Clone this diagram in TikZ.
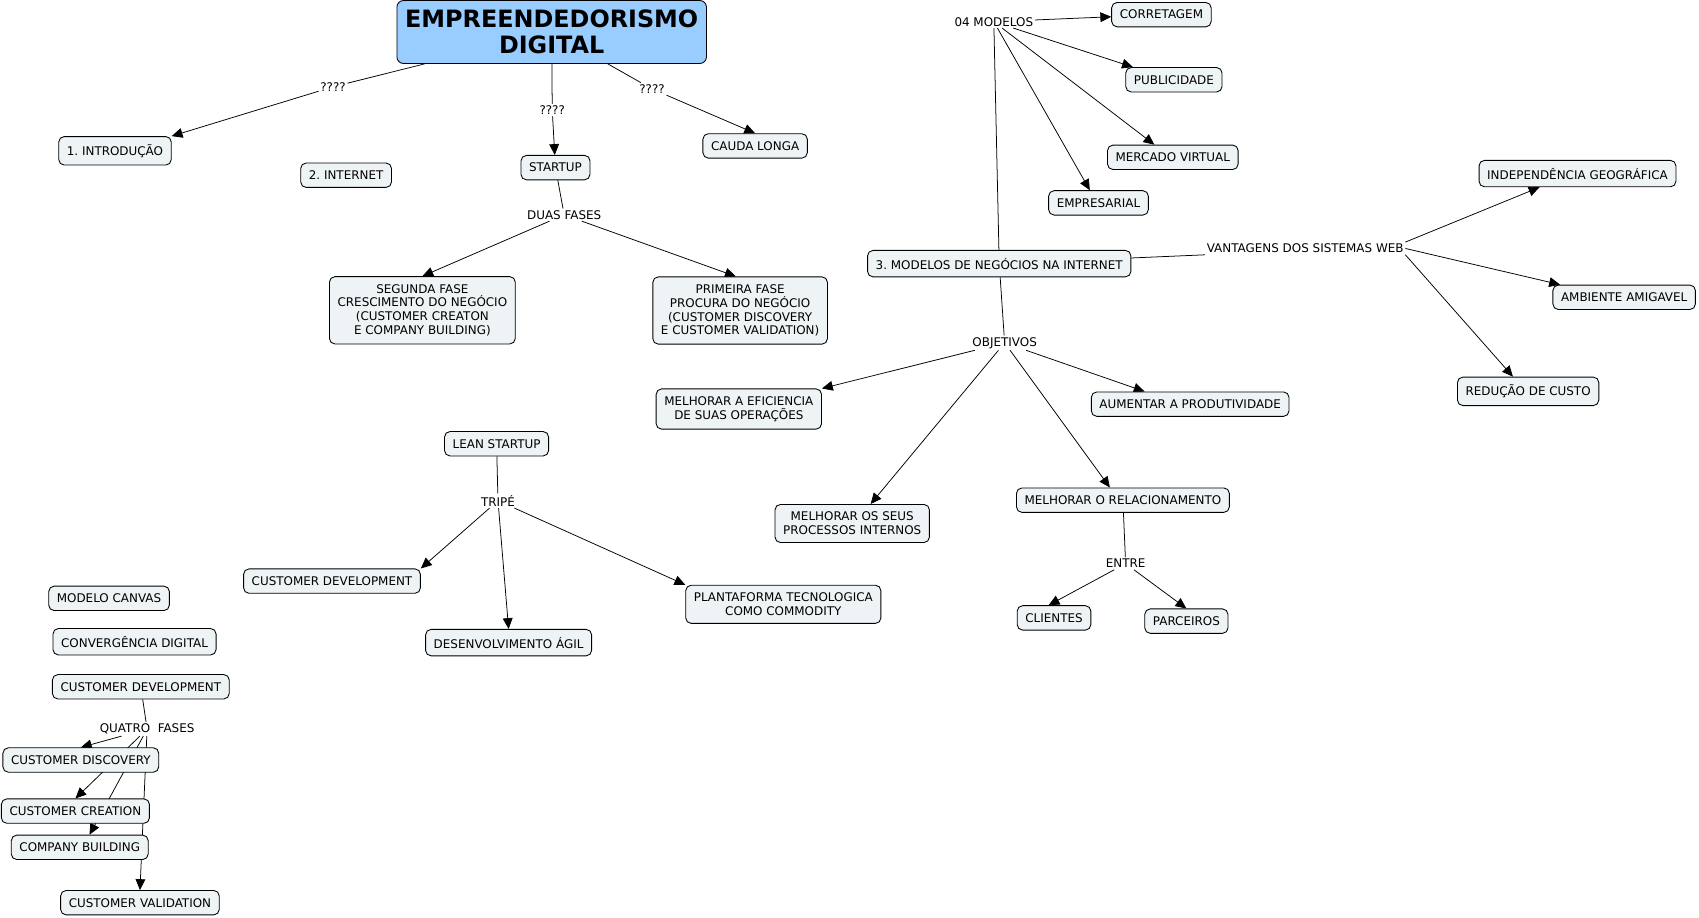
\documentclass[tikz,border=0pt]{standalone}
\usepackage{fontspec}
\setmainfont{DejaVu Sans}
\usetikzlibrary{arrows.meta,backgrounds}
\definecolor{rootfill}{RGB}{153,204,255}
\definecolor{cfill}{RGB}{238,243,245}
\frenchspacing
\begin{document}
\begin{tikzpicture}[x=1pt,y=-1pt,
  concept/.style={draw=black, line width=0.8pt, rounded corners=5pt, fill=cfill,
    font=\fontsize{11}{12.8}\selectfont, inner xsep=7.5pt, inner ysep=7pt,
    minimum height=22.5pt, align=center},
  link/.style={font=\fontsize{11}{12.8}\selectfont, inner sep=1.5pt},
  conn/.style={line width=0.7pt},
  arr/.style={conn, -{Triangle[length=10pt,width=9pt]}}]
\path[use as bounding box] (0,0) rectangle (1566,846);

% root
\node[concept, fill=rootfill, font=\fontsize{22}{23.5}\selectfont\bfseries,
  rounded corners=6pt, minimum width=285pt, minimum height=58pt] (root) at (508.5,29.5) {EMPREENDEDORISMO\\DIGITAL};

% top-left
\node[concept] (intro) at (106,139) {1. INTRODUÇÃO};
\node[concept] (internet) at (319,161.5) {2. INTERNET};
\node[concept] (startup) at (512,154.5) {STARTUP};
\node[concept] (cauda) at (696,134.5) {CAUDA LONGA};
\node[link] (q1) at (307,80) {????};
\node[link] (q2) at (509,101.5) {????};
\node[link] (q3) at (601,82) {????};
\node[link] (duas) at (520,198) {DUAS FASES};
\node[concept] (segunda) at (389.3,286) {SEGUNDA FASE\\CRESCIMENTO DO NEGÓCIO\\(CUSTOMER CREATON\\E COMPANY BUILDING)};
\node[concept] (primeira) at (682.2,286.2) {PRIMEIRA FASE\\PROCURA DO NEGÓCIO\\(CUSTOMER DISCOVERY\\E CUSTOMER VALIDATION)};

% modelos
\node[link] (mod04) at (916,20) {04 MODELOS};
\node[concept] (corretagem) at (1070.5,13.5) {CORRETAGEM};
\node[concept] (publicidade) at (1082,73.5) {PUBLICIDADE};
\node[concept] (mercado) at (1081,145) {MERCADO VIRTUAL};
\node[concept] (empresarial) at (1012.5,187) {EMPRESARIAL};
\node[concept] (modelos3) at (921,243) {3. MODELOS DE NEGÓCIOS NA INTERNET};
\node[link] (vantagens) at (1203,229) {VANTAGENS DOS SISTEMAS WEB};
\node[concept] (indep) at (1454,160) {INDEPENDÊNCIA GEOGRÁFICA};
\node[concept] (ambiente) at (1497,274) {AMBIENTE AMIGAVEL};
\node[concept] (reducao) at (1408.5,360.7) {REDUÇÃO DE CUSTO};

% objetivos
\node[link] (objetivos) at (926,316) {OBJETIVOS};
\node[concept] (eficiencia) at (681,377) {MELHORAR A EFICIENCIA\\DE SUAS OPERAÇÕES};
\node[concept] (produtividade) at (1097,372.5) {AUMENTAR A PRODUTIVIDADE};
\node[concept] (processos) at (785.5,482.5) {MELHORAR OS SEUS\\PROCESSOS INTERNOS};
\node[concept] (relacionamento) at (1035,461) {MELHORAR O RELACIONAMENTO};
\node[link] (entre) at (1037.5,519.5) {ENTRE};
\node[concept] (clientes) at (971.5,569.5) {CLIENTES};
\node[concept] (parceiros) at (1093.5,572.5) {PARCEIROS};

% lean startup
\node[concept] (lean) at (457.7,409) {LEAN STARTUP};
\node[link] (tripe) at (459,461.5) {TRIPÉ};
\node[concept] (custdev2) at (306,535.6) {CUSTOMER DEVELOPMENT};
\node[concept] (desenv) at (468.8,592.3) {DESENVOLVIMENTO ÁGIL};
\node[concept] (plataforma) at (722,557) {PLANTAFORMA TECNOLOGICA\\COMO COMMODITY};

% left column
\node[concept] (canvas) at (100.5,551.5) {MODELO CANVAS};
\node[concept] (convergencia) at (124,591.5) {CONVERGÊNCIA DIGITAL};
\node[concept] (custdev1) at (129.8,633) {CUSTOMER DEVELOPMENT};
\node[link] (quatro) at (135.6,672) {QUATRO\ \ FASES};
\node[concept] (discovery) at (74.5,700.5) {CUSTOMER DISCOVERY};
\node[concept] (creation) at (69.5,747.6) {CUSTOMER CREATION};
\node[concept] (building) at (73.5,781) {COMPANY BUILDING};
\node[concept] (validation) at (129,832) {CUSTOMER VALIDATION};

\begin{scope}[on background layer]
\draw[conn] (root) -- (q1);
\draw[arr] (q1) -- (intro.north east);
\draw[conn] (root) -- (q2);
\draw[arr] (q2) -- (startup);
\draw[conn] (root) -- (q3);
\draw[arr] (q3) -- (cauda.north);
\draw[conn] (startup) -- (duas);
\draw[arr] (duas) -- (segunda.north);
\draw[arr] (duas) -- ([xshift=-4pt]primeira.north);

\draw[arr] (mod04) -- (corretagem);
\draw[arr] (mod04) -- ([xshift=7pt]publicidade.north west);
\draw[arr] (mod04) -- ([xshift=-17pt]mercado.north);
\draw[arr] (mod04) -- ([xshift=-8pt]empresarial.north);
\draw[conn] (modelos3) -- (mod04);
\draw[conn] (modelos3) -- (vantagens.south west);
\draw[arr] (vantagens.north east) -- ([xshift=-35pt]indep.south);
\draw[arr] (vantagens.east) -- ([xshift=7pt]ambiente.north west);
\draw[arr] (vantagens.south east) -- ([xshift=-14pt]reducao.north);

\draw[conn] (modelos3) -- (objetivos);
\draw[arr] (objetivos) -- (eficiencia.north east);
\draw[arr] (objetivos) -- ([xshift=-42pt]produtividade.north);
\draw[arr] (objetivos) -- ([xshift=17pt]processos.north);
\draw[arr] (objetivos) -- ([xshift=-12pt]relacionamento.north);
\draw[conn] (relacionamento) -- (entre);
\draw[arr] (entre) -- ([xshift=-5pt]clientes.north);
\draw[arr] (entre) -- (parceiros.north);

\draw[conn] (lean) -- (tripe);
\draw[arr] (tripe) -- (custdev2.north east);
\draw[arr] (tripe) -- (desenv.north);
\draw[arr] (tripe) -- (plataforma.north west);

\draw[conn] (custdev1) -- (quatro);
\draw[arr] (quatro) -- (discovery.north);
\draw[arr] (quatro) -- (creation.north);
\draw[arr] (quatro) -- ([xshift=9pt]building.north);
\draw[arr] (quatro) -- (validation.north);
\end{scope}
\end{tikzpicture}
\end{document}
